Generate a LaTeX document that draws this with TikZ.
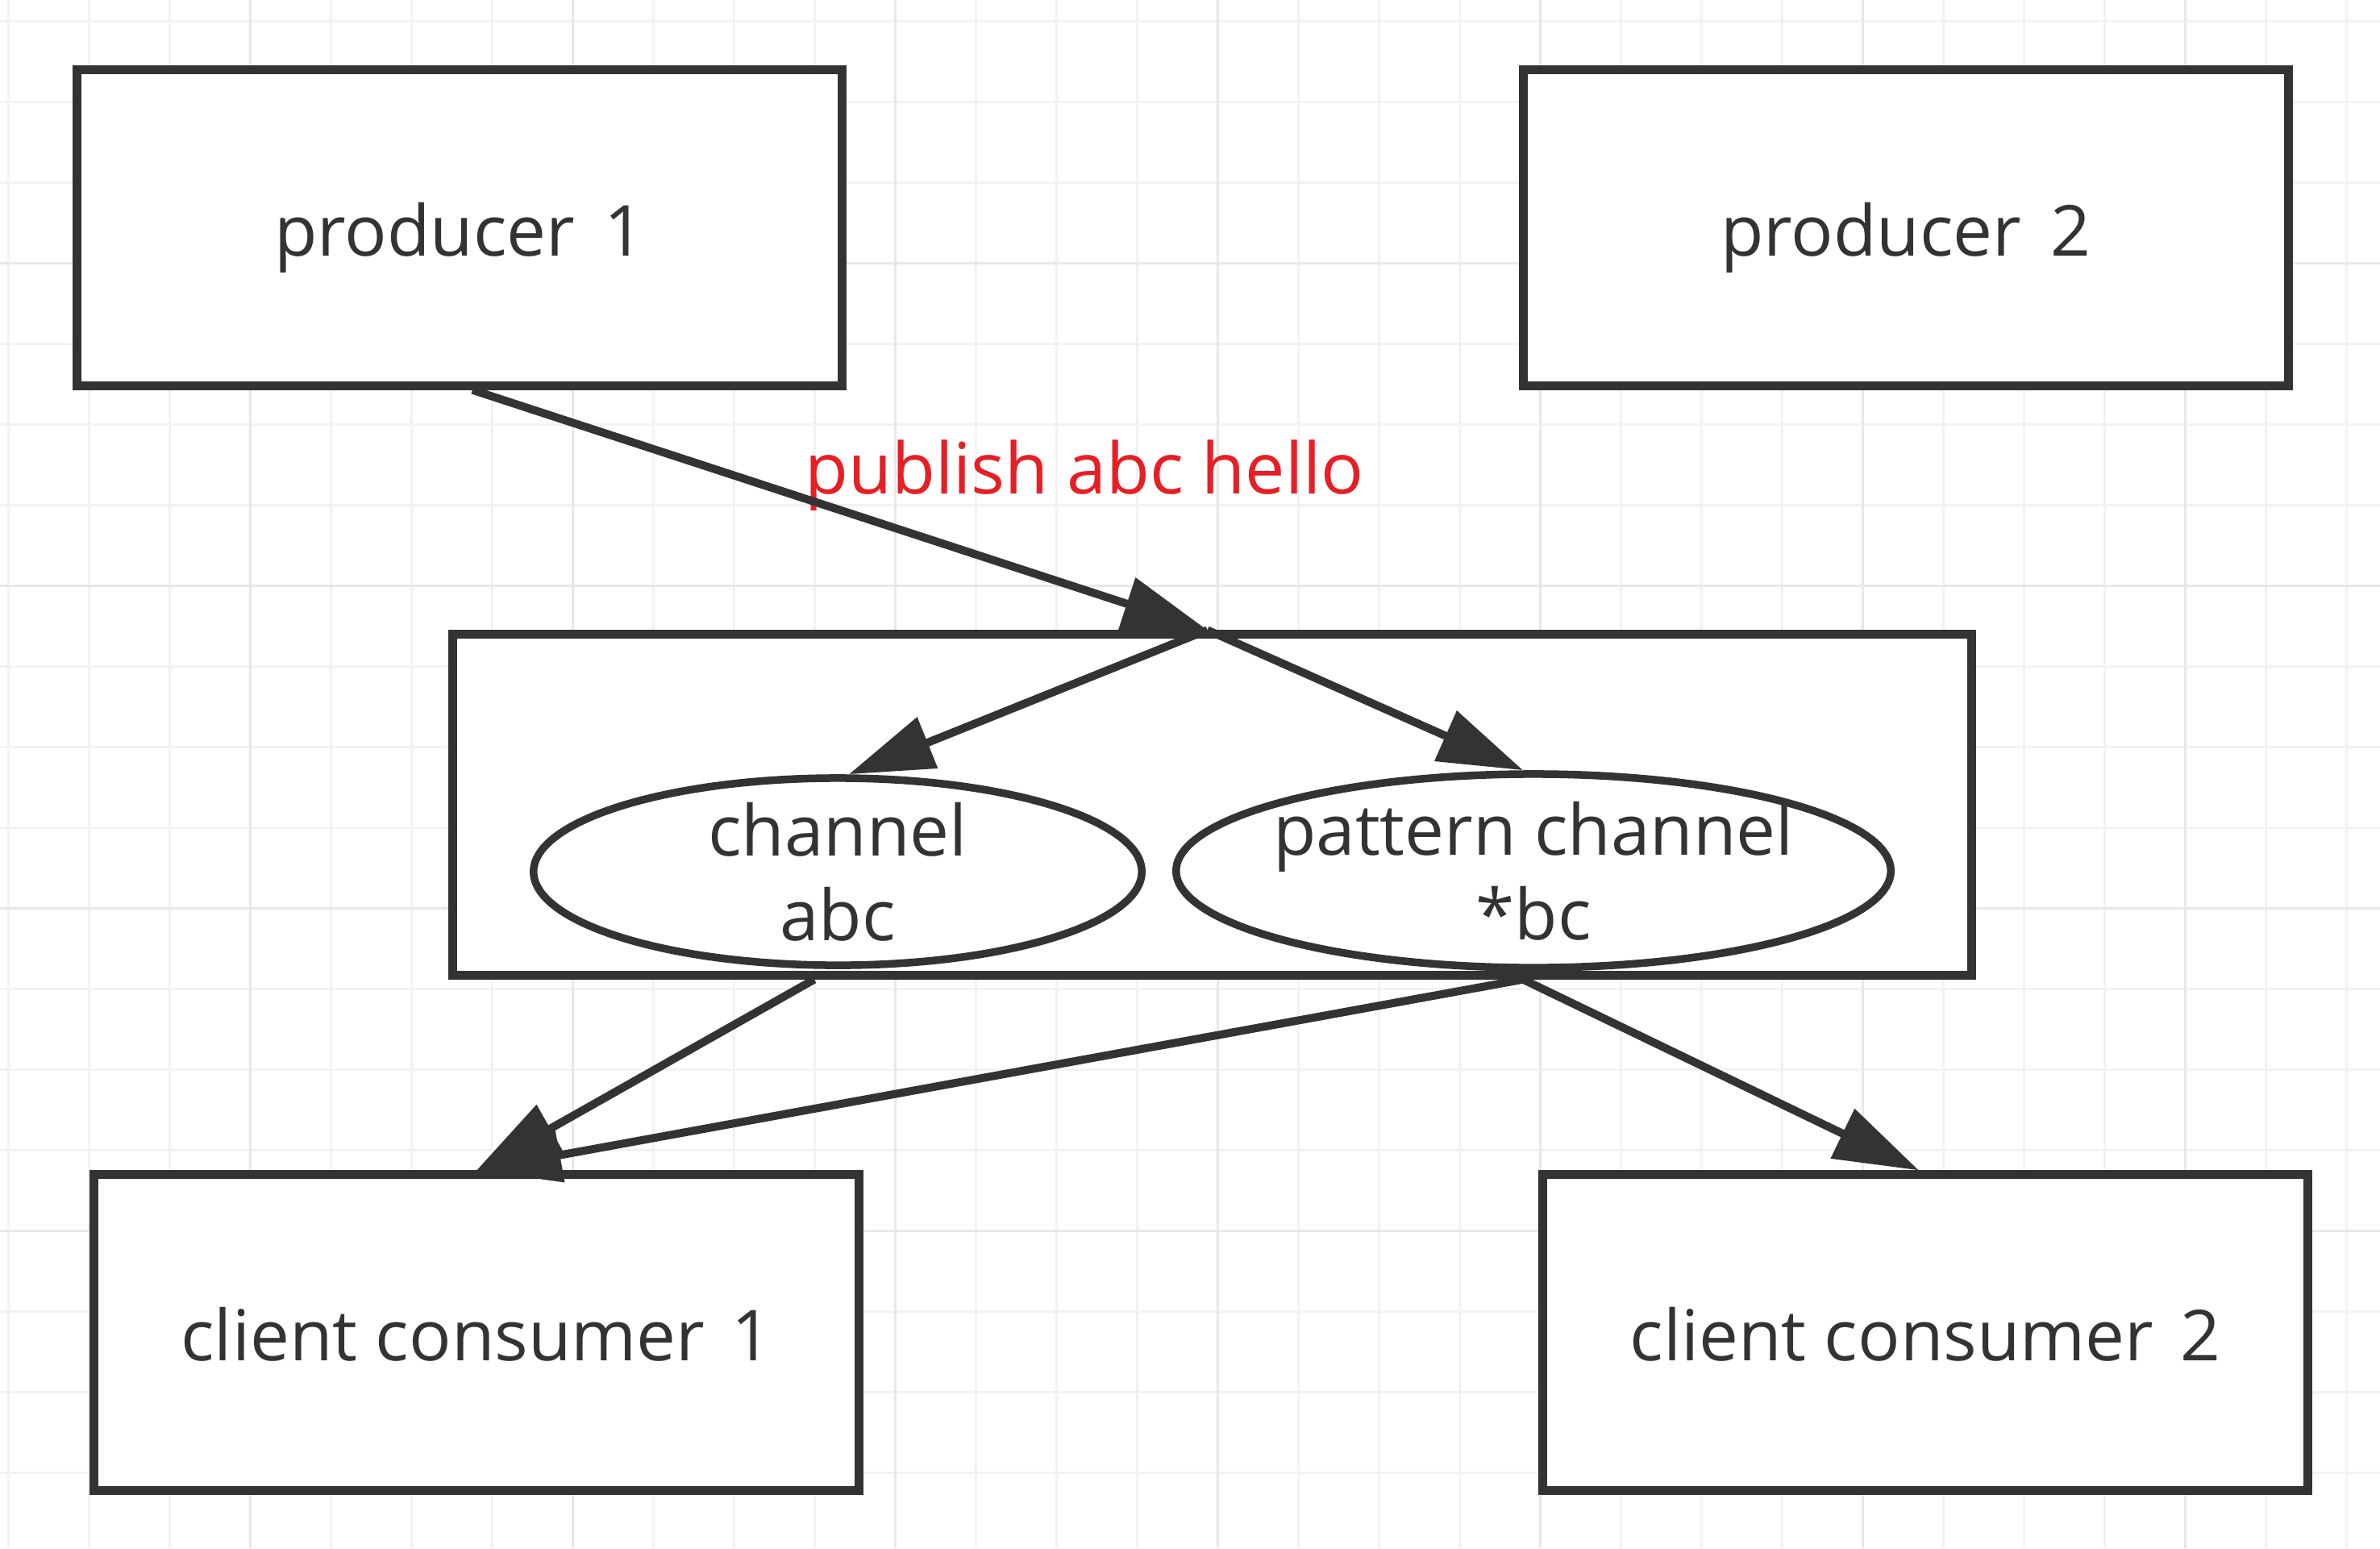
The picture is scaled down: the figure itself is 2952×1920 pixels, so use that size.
\documentclass[tikz,border=0pt]{standalone}
\usepackage{fontspec}
\setmainfont{Open Sans}
\usetikzlibrary{arrows.meta,shapes.geometric,calc}
\definecolor{ink}{HTML}{333333}
\definecolor{pubred}{HTML}{E81E25}
\begin{document}
\begin{tikzpicture}[x=0.01cm,y=-0.01cm,
  minorline/.style={draw=gray!10, line width=0.03cm},
  majorline/.style={draw=gray!18, line width=0.035cm},
  box/.style={draw=ink, line width=0.11cm, fill=white, inner sep=0pt,
    minimum width=9.48cm, minimum height=3.91cm, text=ink,
    font=\fontsize{24.8pt}{30pt}\selectfont, text height=0.7cm, text depth=0pt},
  container/.style={draw=ink, line width=0.11cm, fill=white, inner sep=0pt},
  chan/.style={ellipse, draw=ink, line width=0.095cm, fill=white, inner sep=0pt},
  chantext/.style={align=center, text=ink, inner sep=0pt,
    font=\fontsize{24.8pt}{29.9pt}\selectfont},
  link/.style={draw=ink, line width=0.1cm, -{Triangle[length=1.05cm,width=0.66cm]}},
]
% background and grid
\fill[white] (0,0) rectangle (2952,1920);
\useasboundingbox (0,0) rectangle (2952,1920);
\foreach \i in {0,...,29} \draw[minorline] ({10.5+100*\i},0) -- ({10.5+100*\i},1920);
\foreach \j in {0,...,18} \draw[minorline] (0,{26.5+100*\j}) -- (2952,{26.5+100*\j});
\foreach \i in {0,...,6} \draw[majorline] ({310.5+400*\i},0) -- ({310.5+400*\i},1920);
\foreach \j in {0,...,3} \draw[majorline] (0,{326.5+400*\j}) -- (2952,{326.5+400*\j});

% nodes
\node[box] (p1) at (570,282.5) {producer\hspace{0.42em}1};
\node[box] (p2) at (2364,282.5) {producer\hspace{0.42em}2};
\node[container, minimum width=18.83cm, minimum height=4.22cm] (mid) at (1503.5,998) {};
\node[chan, minimum width=7.54cm, minimum height=2.32cm,
  label={[chantext]center:channel\\abc}] (abc) at (1039,1081) {};
\node[chan, minimum width=8.86cm, minimum height=2.40cm,
  label={[chantext]center:pattern channel\\*bc}] (pat) at (1902,1080) {};
\node[box] (c1) at (591,1652.5) {client consumer\hspace{0.38em}1};
\node[box] (c2) at (2388,1652.5) {client consumer\hspace{0.38em}2};
\node[anchor=base, text=pubred, inner sep=0pt,
  font=\fontsize{25pt}{30pt}\selectfont] (lbl) at (1345,612) {publish abc hello};

% connection points
\coordinate (hub) at ($(mid.north)+(-6,0)$);
\coordinate (abcout) at ($(abc.south |- mid.south)+(-29,0)$);
\coordinate (patout) at ($(pat.south |- mid.south)+(-13,0)$);

% connectors
\draw[link] ($(p1.south)+(16,0)$) -- (hub);
\draw[link] (hub) -- ($(abc.north)+(14,0)$);
\draw[link] (hub) -- ($(pat.north)+(-13,0)$);
\draw[link] (abcout) -- (c1.north);
\draw[link] (patout) -- (c1.north);
\draw[link] (patout) -- ($(c2.north)+(-8,0)$);
\end{tikzpicture}
\end{document}
